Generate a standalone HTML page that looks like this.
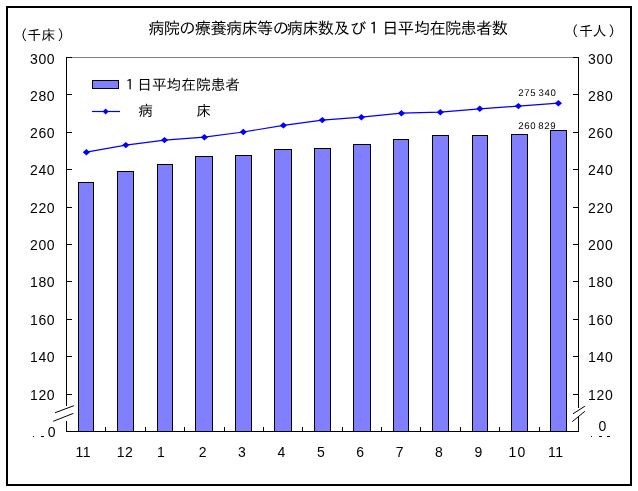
<!DOCTYPE html>
<html lang="ja"><head><meta charset="utf-8"><title>病院の療養病床等の病床数及び１日平均在院患者数</title>
<style>
html,body{margin:0;padding:0;background:#fff;}
body{width:638px;height:491px;overflow:hidden;position:relative;}
svg{position:absolute;left:0;top:0;display:block;will-change:transform;}
text{font-family:"Liberation Sans","IPAGothic","Noto Sans CJK JP",sans-serif;fill:#000;}
.jp{font-family:"Liberation Sans","IPAGothic","Noto Sans CJK JP",sans-serif;}
.n{font-size:14px;}
.yl{letter-spacing:0.7px;}
.s{font-size:9.6px;letter-spacing:0.66px;text-rendering:geometricPrecision;}
</style></head><body>
<svg width="638" height="491" viewBox="0 0 638 491">
<rect x="0" y="0" width="638" height="491" fill="#fff"/>
<rect x="7" y="7" width="624" height="478" fill="none" stroke="#000" stroke-width="2" shape-rendering="crispEdges"/>

<g shape-rendering="crispEdges">
<rect x="66" y="57" width="513" height="1" fill="#808080"/>
<rect x="78.5" y="182.5" width="15" height="249" fill="#8080ff" stroke="#000" stroke-width="1"/>
<rect x="117.5" y="171.5" width="16" height="260" fill="#8080ff" stroke="#000" stroke-width="1"/>
<rect x="157.5" y="164.5" width="15" height="267" fill="#8080ff" stroke="#000" stroke-width="1"/>
<rect x="195.5" y="156.5" width="17" height="275" fill="#8080ff" stroke="#000" stroke-width="1"/>
<rect x="235.5" y="155.5" width="16" height="276" fill="#8080ff" stroke="#000" stroke-width="1"/>
<rect x="274.5" y="149.5" width="17" height="282" fill="#8080ff" stroke="#000" stroke-width="1"/>
<rect x="314.5" y="148.5" width="16" height="283" fill="#8080ff" stroke="#000" stroke-width="1"/>
<rect x="353.5" y="144.5" width="17" height="287" fill="#8080ff" stroke="#000" stroke-width="1"/>
<rect x="393.5" y="139.5" width="15" height="292" fill="#8080ff" stroke="#000" stroke-width="1"/>
<rect x="432.5" y="135.5" width="16" height="296" fill="#8080ff" stroke="#000" stroke-width="1"/>
<rect x="472.5" y="135.5" width="15" height="296" fill="#8080ff" stroke="#000" stroke-width="1"/>
<rect x="511.5" y="134.5" width="16" height="297" fill="#8080ff" stroke="#000" stroke-width="1"/>
<rect x="550.5" y="130.5" width="16" height="301" fill="#8080ff" stroke="#000" stroke-width="1"/>
<rect x="66" y="57" width="1" height="349" fill="#000"/>
<rect x="66" y="421" width="1" height="11" fill="#000"/>
<rect x="578" y="57" width="1" height="351" fill="#000"/>
<rect x="578" y="416" width="1" height="16" fill="#000"/>
<rect x="66" y="431" width="513" height="1" fill="#000"/>
<rect x="66" y="57" width="6" height="1" fill="#000"/>
<rect x="573" y="57" width="6" height="1" fill="#000"/>
<rect x="66" y="94" width="6" height="1" fill="#000"/>
<rect x="573" y="94" width="6" height="1" fill="#000"/>
<rect x="66" y="132" width="6" height="1" fill="#000"/>
<rect x="573" y="132" width="6" height="1" fill="#000"/>
<rect x="66" y="169" width="6" height="1" fill="#000"/>
<rect x="573" y="169" width="6" height="1" fill="#000"/>
<rect x="66" y="207" width="6" height="1" fill="#000"/>
<rect x="573" y="207" width="6" height="1" fill="#000"/>
<rect x="66" y="244" width="6" height="1" fill="#000"/>
<rect x="573" y="244" width="6" height="1" fill="#000"/>
<rect x="66" y="281" width="6" height="1" fill="#000"/>
<rect x="573" y="281" width="6" height="1" fill="#000"/>
<rect x="66" y="319" width="6" height="1" fill="#000"/>
<rect x="573" y="319" width="6" height="1" fill="#000"/>
<rect x="66" y="356" width="6" height="1" fill="#000"/>
<rect x="573" y="356" width="6" height="1" fill="#000"/>
<rect x="66" y="394" width="6" height="1" fill="#000"/>
<rect x="573" y="394" width="6" height="1" fill="#000"/>
<rect x="105" y="427" width="1" height="5" fill="#000"/>
<rect x="145" y="427" width="1" height="5" fill="#000"/>
<rect x="184" y="427" width="1" height="5" fill="#000"/>
<rect x="224" y="427" width="1" height="5" fill="#000"/>
<rect x="263" y="427" width="1" height="5" fill="#000"/>
<rect x="302" y="427" width="1" height="5" fill="#000"/>
<rect x="342" y="427" width="1" height="5" fill="#000"/>
<rect x="381" y="427" width="1" height="5" fill="#000"/>
<rect x="420" y="427" width="1" height="5" fill="#000"/>
<rect x="460" y="427" width="1" height="5" fill="#000"/>
<rect x="499" y="427" width="1" height="5" fill="#000"/>
<rect x="539" y="427" width="1" height="5" fill="#000"/>
<rect x="33" y="436" width="1" height="1" fill="#000"/>
<rect x="41" y="436" width="3" height="1" fill="#000"/>
<rect x="591" y="436" width="1" height="1" fill="#000"/>
<rect x="599" y="436" width="3" height="1" fill="#000"/>
<rect x="607" y="436" width="3" height="1" fill="#000"/>
<rect x="92.5" y="80.5" width="26" height="8" fill="#8080ff" stroke="#000" stroke-width="1"/>
</g>
<g stroke="#000" stroke-width="1" fill="none">
<line x1="54.9" y1="412.8" x2="73.9" y2="405.7"/>
<line x1="53.2" y1="421.3" x2="73.3" y2="413.4"/>
<line x1="573" y1="413.8" x2="584.9" y2="406.2"/>
<line x1="572.3" y1="421.6" x2="584.9" y2="411.3"/>
</g>
<polyline points="86.4,152.2 125.8,145.1 164.5,140.1 204.4,137.2 243.3,132 283.4,125.4 322.3,120.1 361.4,117.2 401.4,113.2 440.3,112.2 479.8,108.8 518.4,106.1 558.4,103.2" fill="none" stroke="#0000ff" stroke-width="1.2"/>
<path d="M86.4 149 l3.6 3.2 l-3.6 3.2 l-3.6 -3.2 z" fill="#0000ff"/>
<path d="M125.8 141.9 l3.6 3.2 l-3.6 3.2 l-3.6 -3.2 z" fill="#0000ff"/>
<path d="M164.5 136.9 l3.6 3.2 l-3.6 3.2 l-3.6 -3.2 z" fill="#0000ff"/>
<path d="M204.4 134 l3.6 3.2 l-3.6 3.2 l-3.6 -3.2 z" fill="#0000ff"/>
<path d="M243.3 128.8 l3.6 3.2 l-3.6 3.2 l-3.6 -3.2 z" fill="#0000ff"/>
<path d="M283.4 122.2 l3.6 3.2 l-3.6 3.2 l-3.6 -3.2 z" fill="#0000ff"/>
<path d="M322.3 116.9 l3.6 3.2 l-3.6 3.2 l-3.6 -3.2 z" fill="#0000ff"/>
<path d="M361.4 114 l3.6 3.2 l-3.6 3.2 l-3.6 -3.2 z" fill="#0000ff"/>
<path d="M401.4 110 l3.6 3.2 l-3.6 3.2 l-3.6 -3.2 z" fill="#0000ff"/>
<path d="M440.3 109 l3.6 3.2 l-3.6 3.2 l-3.6 -3.2 z" fill="#0000ff"/>
<path d="M479.8 105.6 l3.6 3.2 l-3.6 3.2 l-3.6 -3.2 z" fill="#0000ff"/>
<path d="M518.4 102.9 l3.6 3.2 l-3.6 3.2 l-3.6 -3.2 z" fill="#0000ff"/>
<path d="M558.4 100 l3.6 3.2 l-3.6 3.2 l-3.6 -3.2 z" fill="#0000ff"/>
<line x1="92" y1="111.5" x2="120" y2="111.5" stroke="#0000ff" stroke-width="1.2"/>
<path d="M105.6 108.5 l3 3 l-3 3 l-3 -3 z" fill="#0000ff"/>
<text class="jp" x="148.2" y="34.3" font-size="16.2px" letter-spacing="-0.63px">病院の療養病床等の<tspan dx="-1.5">病</tspan>床数及<tspan dx="1.2">び</tspan>１<tspan dx="1">日</tspan>平<tspan dx="0.5">均</tspan>在院患者数</text>
<text class="jp" x="13.3" y="39.7" font-size="14px">（千床<tspan dx="2.2">）</tspan></text>
<text class="jp" x="564.2" y="35.8" font-size="14px">（<tspan dx="0.8">千</tspan><tspan dx="-0.5">人</tspan><tspan dx="1.9">）</tspan></text>
<text class="jp" x="122.5" y="90" font-size="14.7px">１日平均在院患者</text>
<text class="jp" y="115.7" font-size="14.7px"><tspan x="138.3">病</tspan><tspan x="196.3">床</tspan></text>
<text class="n yl" x="29.9" y="64">300</text>
<text class="n yl" x="588" y="64">300</text>
<text class="n yl" x="29.9" y="101">280</text>
<text class="n yl" x="588" y="101">280</text>
<text class="n yl" x="29.9" y="138">260</text>
<text class="n yl" x="588" y="138">260</text>
<text class="n yl" x="29.9" y="175">240</text>
<text class="n yl" x="588" y="175">240</text>
<text class="n yl" x="29.9" y="213">220</text>
<text class="n yl" x="588" y="213">220</text>
<text class="n yl" x="29.9" y="250">200</text>
<text class="n yl" x="588" y="250">200</text>
<text class="n yl" x="29.9" y="287">180</text>
<text class="n yl" x="588" y="287">180</text>
<text class="n yl" x="29.9" y="325">160</text>
<text class="n yl" x="588" y="325">160</text>
<text class="n yl" x="29.9" y="362">140</text>
<text class="n yl" x="588" y="362">140</text>
<text class="n yl" x="29.9" y="400">120</text>
<text class="n yl" x="588" y="400">120</text>
<text class="n" x="55.5" y="437" text-anchor="end">0</text>
<text class="n" x="598.5" y="431">0</text>
<text class="n" x="83.2" y="457" text-anchor="middle" letter-spacing="0.5px">11</text>
<text class="n" x="124.9" y="457" text-anchor="middle" letter-spacing="0.3px">12</text>
<text class="n" x="161.0" y="457" text-anchor="middle" letter-spacing="0px">1</text>
<text class="n" x="202.6" y="457" text-anchor="middle" letter-spacing="0px">2</text>
<text class="n" x="242.0" y="457" text-anchor="middle" letter-spacing="0px">3</text>
<text class="n" x="281.4" y="457" text-anchor="middle" letter-spacing="0px">4</text>
<text class="n" x="320.8" y="457" text-anchor="middle" letter-spacing="0px">5</text>
<text class="n" x="360.2" y="457" text-anchor="middle" letter-spacing="0px">6</text>
<text class="n" x="399.6" y="457" text-anchor="middle" letter-spacing="0px">7</text>
<text class="n" x="439.0" y="457" text-anchor="middle" letter-spacing="0px">8</text>
<text class="n" x="478.3" y="457" text-anchor="middle" letter-spacing="0px">9</text>
<text class="n" x="517.4" y="457" text-anchor="middle" letter-spacing="1px">10</text>
<text class="n" x="555.8" y="457" text-anchor="middle" letter-spacing="0.5px">11</text>
<text class="s" transform="translate(518.3 96)">275<tspan dx="2.3">340</tspan></text>
<text class="s" transform="translate(518.3 129)">260<tspan dx="1.9">829</tspan></text>
</svg></body></html>
